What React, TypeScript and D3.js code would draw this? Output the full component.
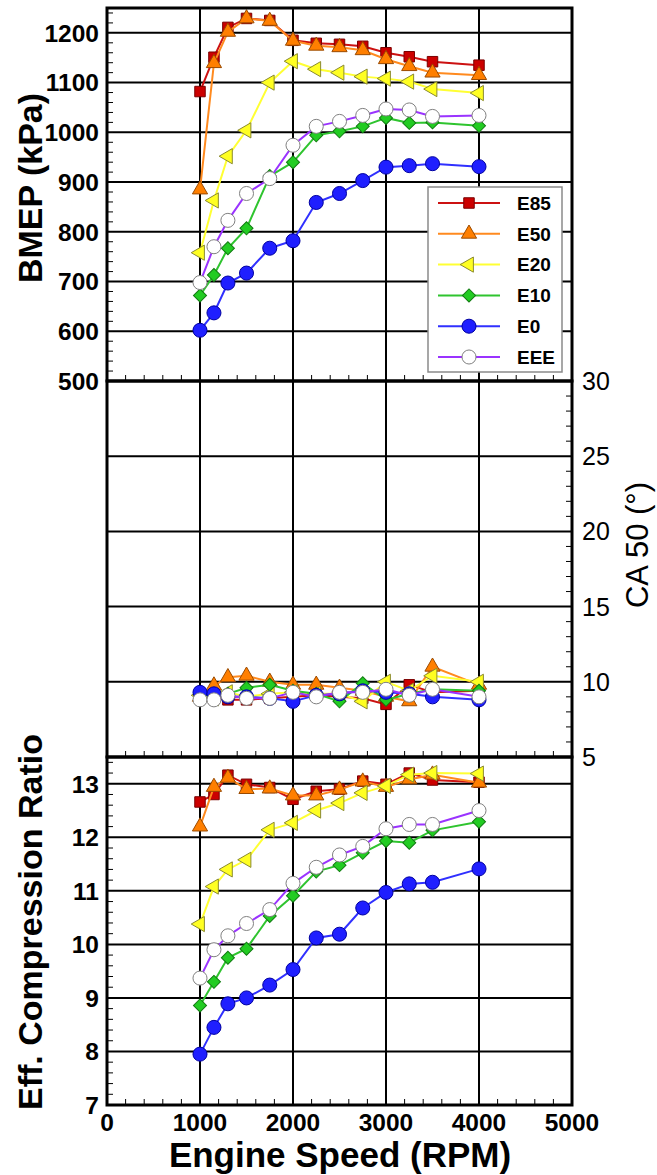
import React from "react";
import * as d3 from "d3";

// engine speeds (RPM)
const rpm = [1000, 1150, 1300, 1500, 1750, 2000, 2250, 2500, 2750, 3000, 3250, 3500, 4000];

const fuels = ["E85", "E50", "E20", "E10", "E0", "EEE"];

// BMEP (kPa)
const e85Bmep = [1082, 1151, 1211, 1229, 1225, 1185, 1179, 1177, 1173, 1160, 1152, 1142, 1135];
const e50Bmep = [885, 1139, 1202, 1229, 1224, 1184, 1174, 1171, 1165, 1147, 1133, 1120, 1115];
const e20Bmep = [758, 863, 952, 1004, 1100, 1143, 1127, 1120, 1112, 1108, 1102, 1087, 1079];
const e10Bmep = [672, 713, 767, 807, 912, 940, 994, 1002, 1012, 1029, 1019, 1020, 1013];
const e0Bmep = [602, 637, 697, 717, 767, 782, 859, 877, 903, 930, 933, 937, 931];
const eeeBmep = [698, 770, 823, 877, 907, 974, 1012, 1022, 1034, 1047, 1045, 1032, 1034];

// CA 50 (deg)
const e85Ca50 = [9.1, 8.9, 8.8, 8.8, 8.9, 9.0, 9.1, 9.0, 8.9, 8.5, 9.8, 9.3, 9.4];
const e50Ca50 = [9.0, 9.75, 10.3, 10.4, 10.0, 9.8, 9.8, 9.6, 9.4, 9.0, 8.7, 11.0, 9.8];
const e20Ca50 = [9.1, 8.9, 9.3, 9.0, 9.2, 9.3, 9.2, 9.2, 8.7, 10.0, 9.4, 10.4, 10.0];
const e10Ca50 = [9.2, 9.0, 9.2, 9.6, 9.8, 9.4, 9.2, 8.7, 9.9, 8.8, 9.2, 9.5, 9.4];
const e0Ca50 = [9.3, 9.2, 9.0, 9.0, 8.9, 8.7, 9.1, 9.2, 9.4, 9.3, 9.2, 9.0, 8.8];
const eeeCa50 = [8.8, 8.8, 9.1, 8.9, 8.9, 9.3, 9.0, 9.3, 9.3, 9.5, 9.1, 9.5, 9.0];

// effective compression ratio
const e85Ecr = [12.66, 12.8, 13.16, 12.99, 12.93, 12.71, 12.86, 12.9, 13.05, 12.99, 13.2, 13.07, 13.03];
const e50Ecr = [12.2, 12.94, 13.11, 12.9, 12.91, 12.78, 12.78, 12.89, 13.04, 12.94, 13.08, 13.17, 13.02];
const e20Ecr = [10.38, 11.08, 11.4, 11.58, 12.14, 12.27, 12.5, 12.64, 12.83, 12.96, 13.17, 13.2, 13.19];
const e10Ecr = [8.86, 9.3, 9.75, 9.92, 10.53, 10.91, 11.36, 11.48, 11.71, 11.93, 11.9, 12.13, 12.29];
const e0Ecr = [7.95, 8.45, 8.89, 9.0, 9.24, 9.53, 10.12, 10.19, 10.68, 10.97, 11.13, 11.16, 11.41];
const eeeEcr = [9.37, 9.9, 10.16, 10.39, 10.65, 11.14, 11.44, 11.67, 11.83, 12.16, 12.24, 12.24, 12.5];

const bmep = [e85Bmep, e50Bmep, e20Bmep, e10Bmep, e0Bmep, eeeBmep];
const ca50 = [e85Ca50, e50Ca50, e20Ca50, e10Ca50, e0Ca50, eeeCa50];
const ecr = [e85Ecr, e50Ecr, e20Ecr, e10Ecr, e0Ecr, eeeEcr];

const xTicks = [0, 1000, 2000, 3000, 4000, 5000];
const bmepTicks = [500, 600, 700, 800, 900, 1000, 1100, 1200];
const caTicks = [5, 10, 15, 20, 25, 30];
const ecrTicks = [7, 8, 9, 10, 11, 12, 13];

// styles per fuel
const styles = [
  { line: "#cc1111", fill: "#cc0000", stroke: "#7a0000", shape: "square" },
  { line: "#ff8a1f", fill: "#ff7f00", stroke: "#9a4a00", shape: "triangle" },
  { line: "#ffff33", fill: "#ffff22", stroke: "#8a8a30", shape: "left" },
  { line: "#2fc42f", fill: "#22cc22", stroke: "#107a10", shape: "diamond" },
  { line: "#3030ff", fill: "#1f1fff", stroke: "#0000a0", shape: "circle" },
  { line: "#9a33ff", fill: "#ffffff", stroke: "#808080", shape: "circle" },
];

const font = "'Liberation Sans', Arial, Helvetica, sans-serif";

const x = d3.scaleLinear().domain([0, 5000]).range([107, 572]);
const panels = {
  top: d3.scaleLinear().domain([500, 1250]).range([381, 8]),
  mid: d3.scaleLinear().domain([5, 30]).range([757, 381]),
  bot: d3.scaleLinear().domain([7, 13.5]).range([1105, 757]),
};

const symbolPath = (shape: string) => {
  if (shape === "square") return { d: d3.symbol(d3.symbolSquare, 110)(), rot: 0 };
  if (shape === "triangle") return { d: d3.symbol(d3.symbolTriangle, 100)(), rot: 0 };
  if (shape === "left") return { d: d3.symbol(d3.symbolTriangle, 100)(), rot: -90 };
  if (shape === "diamond") return { d: d3.symbol(d3.symbolSquare, 85)(), rot: 45 };
  return { d: d3.symbol(d3.symbolCircle, 155)(), rot: 0 };
};

const Marker = ({ cx, cy, i }) => {
  const s = styles[i];
  const m = symbolPath(s.shape);
  return (
    <path
      d={m.d}
      transform={`translate(${cx},${cy}) rotate(${m.rot})`}
      fill={s.fill}
      stroke={s.stroke}
      strokeWidth={1}
    />
  );
};

const Series = ({ data, y }) => {
  const line = d3
    .line<number>()
    .x((d, j) => x(rpm[j]))
    .y((d) => y(d));
  return (
    <g>
      {data.map((vals, i) => (
        <g key={i}>
          <path d={line(vals)} fill="none" stroke={styles[i].line} strokeWidth={2} />
          {vals.map((v, j) => (
            <Marker key={j} cx={x(rpm[j])} cy={y(v)} i={i} />
          ))}
        </g>
      ))}
    </g>
  );
};

const Panel = ({ y, grid, minorY, minorSide }) => {
  const [y0, y1] = y.range();
  const xMinor = d3.range(200, 5000, 200).filter((v) => v % 1000 !== 0);
  return (
    <g>
      {/* vertical grid */}
      {[1000, 2000, 3000, 4000].map((v) => (
        <line key={v} x1={x(v)} x2={x(v)} y1={y0} y2={y1} stroke="#000" strokeWidth={2} />
      ))}
      {/* horizontal grid */}
      {grid.map((v) => (
        <line key={v} x1={x(0)} x2={x(5000)} y1={y(v)} y2={y(v)} stroke="#000" strokeWidth={2} />
      ))}
      {/* minor ticks */}
      {minorY.map((v) =>
        minorSide === "left" ? (
          <line key={v} x1={x(0)} x2={x(0) + 6} y1={y(v)} y2={y(v)} stroke="#000" strokeWidth={1} />
        ) : (
          <line key={v} x1={x(5000)} x2={x(5000) - 6} y1={y(v)} y2={y(v)} stroke="#000" strokeWidth={1} />
        )
      )}
      {xMinor.map((v) => (
        <line key={v} x1={x(v)} x2={x(v)} y1={y0} y2={y0 - 6} stroke="#000" strokeWidth={1} />
      ))}
    </g>
  );
};

const Legend = () => (
  <g>
    <rect x={428} y={187} width={134} height={185} fill="#fff" stroke="#8a8a8a" strokeWidth={1.5} />
    {fuels.map((f, i) => {
      const cy = 203 + i * 30.8;
      return (
        <g key={f}>
          <line x1={438} x2={500} y1={cy} y2={cy} stroke={styles[i].line} strokeWidth={2} />
          <Marker cx={469} cy={cy} i={i} />
          <text x={517} y={cy} dy="0.36em" fontSize={19} fontWeight="bold" fontFamily={font}>
            {f}
          </text>
        </g>
      );
    })}
  </g>
);

export default function App() {
  const { top, mid, bot } = panels;
  const minorTop = d3.range(500, 1250, 20).filter((v) => v % 100 !== 0);
  const minorMid = d3.range(6, 30, 1).filter((v) => v % 5 !== 0);
  const minorBot = d3.range(70, 135, 2).map((v) => v / 10).filter((v) => Math.abs(v - Math.round(v)) > 0.01);

  return (
    <svg
      width={657}
      height={1175}
      style={{ position: "absolute", left: 0, top: 0, background: "#fff" }}
    >
      <rect width={657} height={1175} fill="#fff" />

      <Panel y={top} grid={[600, 700, 800, 900, 1000, 1100, 1200]} minorY={minorTop} minorSide="left" />
      <Panel y={mid} grid={[10, 15, 20, 25]} minorY={minorMid} minorSide="right" />
      <Panel y={bot} grid={[8, 9, 10, 11, 12, 13]} minorY={minorBot} minorSide="left" />

      <Series data={bmep} y={top} />
      <Legend />
      <Series data={ca50} y={mid} />
      <Series data={ecr} y={bot} />

      {/* panel borders */}
      {[top, mid, bot].map((s, i) => {
        const [y0, y1] = s.range();
        return (
          <rect
            key={i}
            x={x(0)}
            y={y1}
            width={x(5000) - x(0)}
            height={y0 - y1}
            fill="none"
            stroke="#000"
            strokeWidth={3}
          />
        );
      })}

      {/* tick labels */}
      <g fontFamily={font} fontSize={24.5} fontWeight="bold">
        {bmepTicks.map((v) => (
          <text key={v} x={99} y={top(v)} dy="0.36em" textAnchor="end">
            {v}
          </text>
        ))}
        {ecrTicks.map((v) => (
          <text key={v} x={99} y={bot(v)} dy="0.36em" textAnchor="end">
            {v}
          </text>
        ))}
        {xTicks.map((v) => (
          <text key={v} x={x(v)} y={1131} textAnchor="middle">
            {v}
          </text>
        ))}
      </g>
      <g fontFamily={font} fontSize={25}>
        {caTicks.map((v) => (
          <text key={v} x={582} y={mid(v)} dy="0.36em" textAnchor="start">
            {v}
          </text>
        ))}
      </g>

      {/* axis titles */}
      <text
        transform="translate(30,188) rotate(-90)"
        dy="0.36em"
        textAnchor="middle"
        fontFamily={font}
        fontSize={34}
        fontWeight="bold"
      >
        BMEP (kPa)
      </text>
      <text
        transform="translate(30,922) rotate(-90)"
        dy="0.36em"
        textAnchor="middle"
        fontFamily={font}
        fontSize={34}
        fontWeight="bold"
      >
        Eff. Compression Ratio
      </text>
      <text
        transform="translate(637,545) rotate(-90)"
        dy="0.36em"
        textAnchor="middle"
        fontFamily={font}
        fontSize={31}
      >
        CA 50 (°)
      </text>
      <text x={340} y={1167} textAnchor="middle" fontFamily={font} fontSize={35} fontWeight="bold">
        Engine Speed (RPM)
      </text>
    </svg>
  );
}
